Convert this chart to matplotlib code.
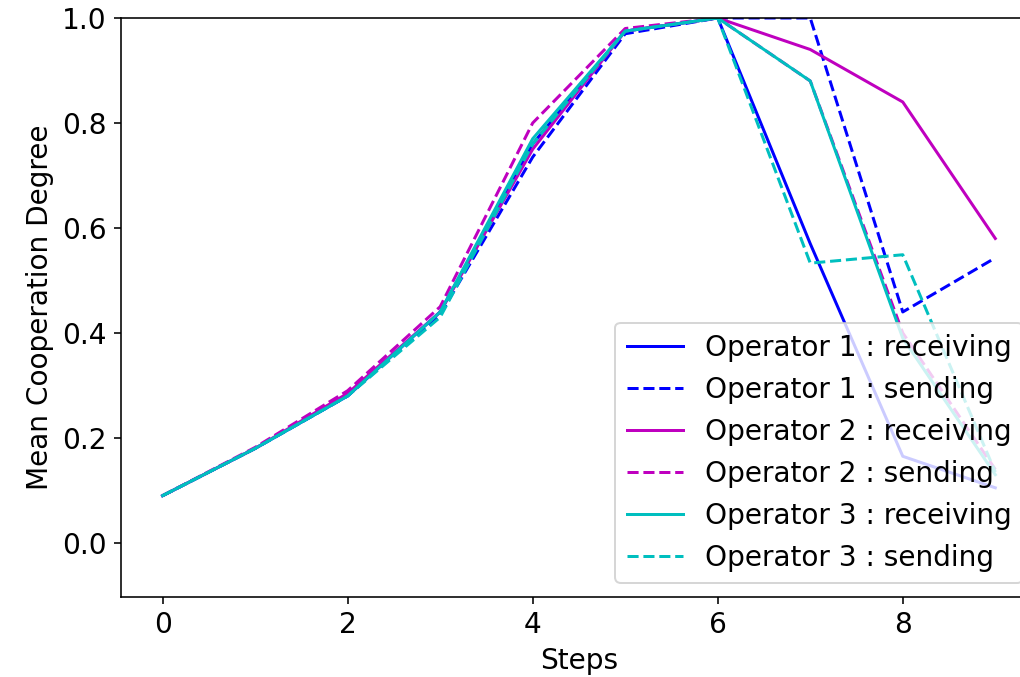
import matplotlib
matplotlib.use("Agg")
import matplotlib.pyplot as plt

steps = [0, 1, 2, 3, 4, 5, 6, 7, 8, 9]

op1_receiving = [0.09, 0.18, 0.28, 0.44, 0.76, 0.975, 1.0, 0.57, 0.165, 0.105]
op1_sending = [0.09, 0.18, 0.28, 0.435, 0.735, 0.97, 1.0, 1.0, 0.44, 0.543]
op2_receiving = [0.09, 0.18, 0.285, 0.44, 0.75, 0.975, 1.0, 0.94, 0.84, 0.58]
op2_sending = [0.09, 0.182, 0.29, 0.45, 0.80, 0.98, 1.0, 0.88, 0.40, 0.14]
op3_receiving = [0.09, 0.18, 0.28, 0.44, 0.77, 0.975, 1.0, 0.88, 0.39, 0.13]
op3_sending = [0.09, 0.18, 0.28, 0.43, 0.76, 0.975, 1.0, 0.533, 0.549, 0.135]

plt.rcParams['font.size'] = 14

# original looks like a larger-dpi render, so scale everything up together
fig = plt.figure(figsize=(1020 / 144, 677 / 144), dpi=144)
ax = fig.add_axes([0.1186, 0.1182, 0.898, 0.8552])

ax.plot(steps, op1_receiving, 'b-', label='Operator 1 : receiving')
ax.plot(steps, op1_sending, 'b--', label='Operator 1 : sending')
ax.plot(steps, op2_receiving, 'm-', label='Operator 2 : receiving')
ax.plot(steps, op2_sending, 'm--', label='Operator 2 : sending')
ax.plot(steps, op3_receiving, 'c-', label='Operator 3 : receiving')
ax.plot(steps, op3_sending, 'c--', label='Operator 3 : sending')

ax.set_ylim(-0.103, 1.0)
ax.set_xlabel('Steps')
ax.set_ylabel('Mean Cooperation Degree')
ax.legend(loc='lower right')

fig.savefig('out.png', dpi=144)
